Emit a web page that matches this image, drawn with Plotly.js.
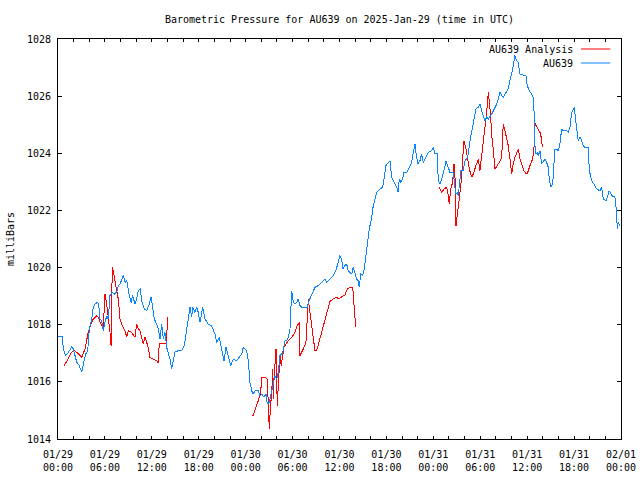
<!DOCTYPE html>
<html>
<head>
<meta charset="utf-8">
<script src="https://cdn.plot.ly/plotly-3.0.1.min.js"></script>
<style>
html,body{margin:0;padding:0;background:#fff;}
.scatterlayer path.js-line{shape-rendering:crispEdges;}
</style>
</head>
<body>
<div id="chart" style="width:640px;height:480px;"></div>
<script>
// Hours since 2025-01-29 00:00 UTC
const stationHours = [0.04,0.55,0.68,0.98,1.32,1.75,1.96,2.39,2.69,3.03,3.24,3.54,3.80,4.00,4.31,4.51,4.73,5.08,5.24,5.37,5.59,5.79,6.01,6.23,6.43,6.65,6.94,7.20,7.51,7.71,7.93,8.15,8.35,8.57,8.79,9.08,9.34,9.55,9.85,10.06,10.27,10.52,10.70,11.04,11.34,11.68,11.89,12.06,12.31,12.62,12.83,13.04,13.26,13.47,13.68,13.90,14.11,14.32,14.54,14.74,14.96,15.38,15.82,16.15,16.46,16.75,16.88,17.10,17.23,17.52,17.74,17.94,18.16,18.50,18.80,19.22,19.65,20.08,20.29,20.63,20.81,21.06,21.23,21.48,21.78,22.08,22.42,22.85,23.18,23.49,23.70,24.13,24.34,24.55,24.77,24.97,25.19,25.61,25.83,26.05,26.34,26.60,26.76,27.02,27.24,27.46,27.75,27.97,28.17,28.39,28.61,28.81,29.03,29.25,29.45,29.67,29.80,29.89,30.09,30.31,30.52,30.73,30.95,31.16,31.59,31.88,32.01,32.23,32.57,32.86,33.29,33.72,34.14,34.36,34.78,35.17,35.55,35.81,36.06,36.28,36.41,36.70,36.92,37.12,37.56,37.76,37.98,38.20,38.40,38.53,38.71,38.96,39.17,39.39,39.55,39.81,40.12,40.32,40.54,40.75,41.18,41.52,41.73,41.94,42.24,42.46,42.67,43.00,43.31,43.52,43.64,43.86,44.08,44.25,44.59,44.92,45.23,45.43,45.65,45.78,46.00,46.29,46.51,46.71,47.06,47.35,47.79,47.99,48.21,48.50,48.63,48.85,49.19,49.36,49.62,49.91,50.13,50.55,50.68,50.86,51.06,51.19,51.41,51.53,51.83,52.05,52.26,52.47,52.69,52.90,53.11,53.45,53.75,53.96,54.18,54.39,54.60,54.82,55.03,55.46,55.67,55.88,56.10,56.30,56.52,56.74,56.94,57.29,57.58,57.80,58.15,58.44,58.66,58.86,59.08,59.50,59.85,60.01,60.27,60.58,60.78,60.87,61.00,61.13,61.29,61.42,61.64,61.85,62.06,62.28,62.49,62.70,62.83,63.01,63.26,63.43,63.55,63.77,63.98,64.19,64.41,64.62,65.05,65.26,65.47,65.69,65.90,66.02,66.24,66.41,66.53,66.75,66.97,67.17,67.39,67.81,67.94,68.12,68.38,68.67,68.89,69.31,69.53,69.73,70.08,70.24,70.50,70.81,71.23,71.44,71.52,71.65,71.87];
const stationPressure = [1017.59,1017.59,1017.15,1016.92,1017.03,1017.22,1017.15,1016.69,1016.59,1016.34,1016.62,1016.97,1017.09,1017.85,1018.20,1018.62,1018.72,1018.79,1018.61,1018.20,1018.14,1017.79,1018.08,1018.31,1018.20,1019.02,1019.14,1019.07,1019.14,1019.37,1019.42,1019.60,1019.72,1019.48,1019.54,1019.07,1018.78,1019.02,1018.72,1018.90,1019.19,1019.27,1018.84,1018.55,1018.49,1018.72,1018.96,1018.72,1018.20,1018.02,1017.85,1017.50,1018.02,1017.50,1017.73,1017.21,1017.03,1016.80,1016.45,1016.80,1017.04,1017.09,1017.09,1017.27,1017.85,1018.31,1018.61,1018.26,1018.61,1018.43,1018.61,1018.43,1018.08,1018.61,1018.20,1018.02,1017.96,1017.67,1017.38,1017.56,1017.33,1017.03,1016.74,1017.21,1016.92,1016.57,1016.80,1016.74,1016.86,1016.97,1017.21,1017.09,1016.74,1015.98,1015.69,1015.57,1015.69,1015.69,1015.51,1015.57,1015.47,1015.57,1015.22,1015.28,1015.57,1015.81,1016.21,1016.10,1016.33,1016.92,1016.97,1017.09,1017.44,1017.44,1017.56,1017.85,1018.43,1019.19,1018.78,1018.72,1018.78,1018.90,1018.67,1018.61,1018.61,1018.61,1018.78,1018.90,1019.13,1019.31,1019.37,1019.48,1019.60,1019.48,1019.60,1019.70,1019.90,1020.20,1020.42,1020.30,1019.95,1020.07,1020.12,1019.89,1019.77,1020.01,1019.77,1019.60,1019.54,1019.31,1019.77,1019.72,1019.95,1020.42,1020.88,1021.35,1021.76,1022.17,1022.40,1022.63,1022.75,1022.81,1023.16,1023.57,1023.68,1023.74,1023.16,1022.98,1022.81,1022.63,1023.10,1022.98,1023.10,1023.33,1023.33,1023.51,1023.68,1024.03,1024.32,1024.03,1023.63,1023.74,1023.98,1023.68,1023.86,1024.03,1024.09,1024.21,1023.98,1023.98,1023.04,1022.92,1023.22,1023.45,1023.71,1023.51,1023.33,1023.33,1023.04,1022.57,1022.63,1022.52,1023.10,1023.39,1023.39,1023.74,1023.80,1023.98,1024.44,1024.79,1025.14,1025.55,1025.61,1025.72,1025.49,1025.32,1025.14,1025.26,1025.20,1025.37,1025.49,1025.61,1025.72,1025.90,1026.13,1026.02,1025.96,1026.13,1026.25,1026.54,1026.95,1027.42,1027.24,1027.18,1026.77,1026.74,1026.72,1026.37,1026.19,1026.07,1025.96,1025.55,1024.27,1023.98,1024.03,1023.92,1024.09,1023.63,1023.74,1023.80,1023.68,1023.51,1023.10,1022.81,1022.92,1023.57,1024.15,1024.15,1024.09,1024.32,1024.85,1024.79,1024.79,1024.73,1024.91,1025.43,1025.55,1025.61,1025.08,1024.62,1024.44,1024.56,1024.44,1024.27,1024.21,1024.21,1023.45,1023.16,1022.98,1022.87,1022.75,1022.69,1022.81,1022.40,1022.34,1022.46,1022.69,1022.52,1022.46,1021.93,1021.35,1021.58,1021.47];

const analysisHours = [0.81,1.32,1.75,2.17,2.60,3.03,3.45,3.87,4.22,4.51,4.95,5.15,5.50,5.79,5.92,6.01,6.23,6.43,6.65,6.78,6.87,6.94,7.07,7.20,7.38,7.71,7.93,8.15,8.57,8.79,8.99,9.42,9.85,10.06,10.27,10.49,10.70,10.91,11.13,11.47,11.76,12.19,12.62,12.83,12.95,13.26,13.68,13.90,13.98,
  null,
  24.90,25.19,25.61,25.92,26.05,26.47,26.76,26.89,27.02,27.11,27.24,27.37,27.46,27.53,27.62,27.75,27.88,27.97,28.04,28.13,28.22,28.39,28.55,28.73,28.90,29.16,29.45,29.89,30.31,30.60,30.86,30.95,31.16,31.37,31.71,31.88,32.01,32.14,32.31,32.57,32.86,33.08,33.50,33.93,34.36,34.78,35.20,35.64,35.84,36.28,36.70,37.00,37.43,37.69,37.85,37.98,38.07,
  null,
  48.76,49.07,49.36,49.71,49.91,50.04,50.22,50.47,50.64,50.77,50.90,51.06,51.24,51.41,51.62,51.75,51.92,52.17,52.34,52.60,52.90,53.11,53.45,53.75,53.96,54.18,54.39,54.60,54.82,55.03,55.15,55.33,55.46,55.67,55.88,56.18,56.43,56.74,56.94,57.16,57.37,57.58,57.80,58.02,58.22,58.44,58.86,59.08,59.30,59.59,59.85,60.01,60.36,60.70,60.87,60.96,61.13,61.42,61.64,61.85,61.93];
const analysisPressure = [1016.57,1016.80,1017.04,1017.09,1016.97,1016.86,1017.15,1017.74,1018.02,1018.20,1018.31,1018.26,1018.02,1017.91,1018.61,1019.07,1018.72,1018.31,1017.73,1017.27,1019.13,1020.01,1019.89,1019.72,1019.37,1018.90,1018.20,1018.02,1017.79,1017.56,1017.79,1017.73,1017.56,1018.02,1017.85,1017.79,1017.56,1017.33,1017.56,1017.27,1016.86,1016.80,1016.74,1016.66,1017.36,1017.33,1017.33,1017.33,1018.26,
  null,
  1014.79,1014.99,1015.34,1015.63,1016.16,1016.16,1016.10,1015.28,1014.35,1014.82,1015.28,1015.87,1016.45,1015.40,1016.10,1016.92,1017.15,1016.10,1015.17,1015.63,1016.22,1016.92,1016.57,1016.92,1017.21,1017.33,1017.44,1017.56,1017.73,1017.97,1018.08,1016.92,1017.03,1017.15,1017.38,1018.20,1018.90,1018.61,1018.26,1017.62,1017.09,1017.09,1017.50,1017.97,1018.43,1018.81,1018.90,1018.96,1018.90,1018.96,1019.04,1019.25,1019.31,1019.31,1018.67,1018.26,1017.91,
  null,
  1022.80,1022.63,1022.75,1022.81,1022.52,1022.22,1022.75,1022.98,1023.63,1023.16,1021.47,1021.93,1022.22,1022.63,1023.16,1023.80,1024.44,1024.15,1023.80,1023.45,1023.16,1023.28,1023.57,1023.80,1023.39,1023.92,1024.44,1024.85,1025.43,1026.13,1025.78,1025.32,1024.62,1024.15,1023.45,1023.57,1023.68,1023.86,1025.02,1024.79,1024.50,1024.27,1023.80,1023.28,1023.63,1023.86,1024.15,1023.80,1023.63,1023.39,1023.28,1023.28,1023.57,1023.80,1024.15,1025.08,1024.97,1024.85,1024.73,1024.50,1024.21];

const xTickHours = [0,6,12,18,24,30,36,42,48,54,60,66,72];
const xTickLabels = ['01/29<br>00:00','01/29<br>06:00','01/29<br>12:00','01/29<br>18:00','01/30<br>00:00','01/30<br>06:00','01/30<br>12:00','01/30<br>18:00','01/31<br>00:00','01/31<br>06:00','01/31<br>12:00','01/31<br>18:00','02/01<br>00:00'];
const seriesNames = ['AU639 Analysis','AU639'];
const seriesColors = ['#ff0000','#0a84ff'];

// every 2 hours a tick, labels every 6 hours
const allTicks = [], allText = [];
for (let h = 0; h <= 72; h += 2) {
  allTicks.push(h);
  const i = xTickHours.indexOf(h);
  allText.push(i >= 0 ? xTickLabels[i] : '');
}

const FONT = 'DejaVu Sans Mono, monospace';

const traces = [
  {x: analysisHours, y: analysisPressure, name: seriesNames[0], mode: 'lines',
   line: {color: seriesColors[0], width: 1}, connectgaps: false, hoverinfo: 'skip'},
  {x: stationHours, y: stationPressure, name: seriesNames[1], mode: 'lines',
   line: {color: seriesColors[1], width: 1}, hoverinfo: 'skip'}
];

// gnuplot-style key: text right-aligned, line sample to its right
const keyRows = [0.975, 0.94];
const annotations = seriesNames.map((n, i) => ({
  xref: 'paper', yref: 'paper', x: 0.919, y: keyRows[i], xanchor: 'right', yanchor: 'middle',
  text: n, showarrow: false, font: {family: FONT, size: 10, color: '#000'}
}));
const shapes = seriesNames.map((n, i) => ({
  type: 'line', xref: 'paper', yref: 'paper', x0: 0.929, x1: 0.981, y0: keyRows[i], y1: keyRows[i],
  line: {color: seriesColors[i], width: 1}
}));

const layout = {
  width: 640, height: 480,
  margin: {l: 58, r: 19, t: 39, b: 41, pad: 0},
  paper_bgcolor: '#fff', plot_bgcolor: '#fff',
  font: {family: FONT, size: 10, color: '#000'},
  title: {text: 'Barometric Pressure for AU639 on 2025-Jan-29 (time in UTC)',
          x: 0.5, xref: 'paper', xanchor: 'center', y: 0.96, yref: 'container', yanchor: 'middle',
          font: {family: FONT, size: 10, color: '#000'}},
  showlegend: false,
  xaxis: {range: [0, 72], tickmode: 'array', tickvals: allTicks, ticktext: allText,
          ticks: 'inside', ticklen: 3, tickcolor: '#000', tickwidth: 1,
          showline: true, linecolor: '#000', linewidth: 1, mirror: 'allticks',
          showgrid: false, zeroline: false, fixedrange: true, ticklabelstandoff: 6},
  yaxis: {range: [1014, 1028], tickmode: 'linear', tick0: 1014, dtick: 2,
          ticks: 'inside', ticklen: 4, tickcolor: '#000', tickwidth: 1,
          showline: true, linecolor: '#000', linewidth: 1, mirror: 'allticks',
          showgrid: false, zeroline: false, fixedrange: true, ticklabelstandoff: 4,
          title: {text: 'milliBars', standoff: 10, font: {family: FONT, size: 10, color: '#000'}}},
  annotations: annotations,
  shapes: shapes
};

Plotly.newPlot('chart', traces, layout, {displayModeBar: false, staticPlot: true});
</script>
</body>
</html>
